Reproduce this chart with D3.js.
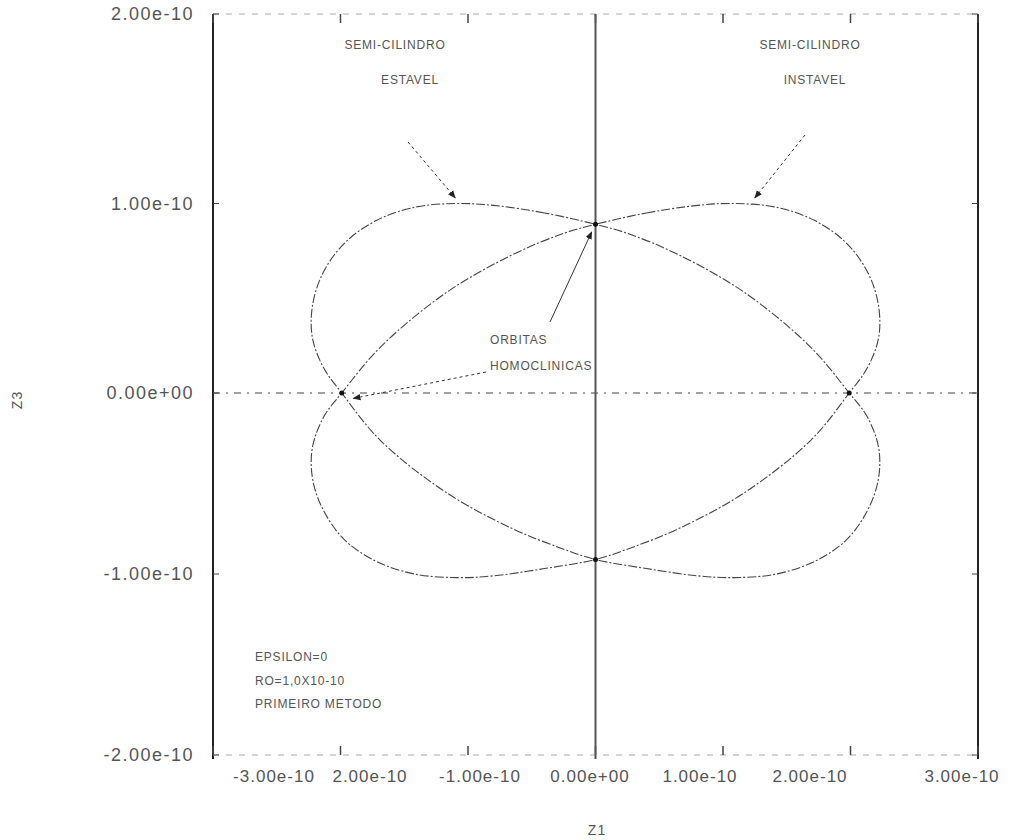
<!DOCTYPE html>
<html>
<head>
<meta charset="utf-8">
<script src="https://cdn.jsdelivr.net/npm/d3@7"></script>
<style>
  body { margin: 0; background: #fff; }
  text { font-family: "Liberation Sans", "DejaVu Sans", sans-serif; fill: #555; }
</style>
</head>
<body>
<div id="chart"></div>
<script>
// values are in units of 1e-10

// tick values and their printed labels
const xTicks = [-3, -2, -1, 0, 1, 2, 3];
const xTickLabels = ["-3.00e-10", "2.00e-10", "-1.00e-10", "0.00e+00", "1.00e-10", "2.00e-10", "3.00e-10"];
const yTicks = [-2, -1, 0, 1, 2];
const yTickLabels = ["-2.00e-10", "-1.00e-10", "0.00e+00", "1.00e-10", "2.00e-10"];

// stable semi-cylinder (tilted from upper left to lower right)
const stableZ1 = [0, -0.40, -0.80, -1.10, -1.42, -1.72, -1.97, -2.14, -2.22, -2.22, -2.13, -1.99,
  -1.69, -1.17, -0.65, -0.26, 0,
  0.40, 0.80, 1.10, 1.42, 1.72, 1.97, 2.14, 2.22, 2.22, 2.13, 1.99,
  1.69, 1.17, 0.65, 0.26];
const stableZ3 = [0.89, 0.95, 0.99, 1.00, 0.98, 0.91, 0.79, 0.63, 0.46, 0.29, 0.13, 0,
  -0.26, -0.55, -0.75, -0.86, -0.92,
  -0.97, -1.01, -1.02, -1.00, -0.93, -0.81, -0.64, -0.47, -0.30, -0.13, 0,
  0.24, 0.53, 0.73, 0.84];

// unstable semi-cylinder (tilted from upper right to lower left)
const unstableZ1 = [0, 0.40, 0.80, 1.08, 1.42, 1.72, 1.97, 2.14, 2.22, 2.22, 2.13, 1.99,
  1.69, 1.17, 0.65, 0.26, 0,
  -0.40, -0.80, -1.08, -1.42, -1.72, -1.97, -2.14, -2.22, -2.22, -2.13, -1.99,
  -1.69, -1.17, -0.65, -0.26];
const unstableZ3 = [0.89, 0.95, 0.99, 1.00, 0.98, 0.91, 0.79, 0.63, 0.46, 0.29, 0.13, 0,
  -0.26, -0.55, -0.75, -0.86, -0.92,
  -0.97, -1.01, -1.02, -1.00, -0.93, -0.81, -0.64, -0.47, -0.30, -0.13, 0,
  0.24, 0.53, 0.73, 0.84];

// homoclinic intersection points
const crossZ1 = [-1.99, 0, 1.99, 0];
const crossZ3 = [0, 0.89, 0, -0.92];

const notes = ["EPSILON=0", "RO=1,0X10-10", "PRIMEIRO METODO"];

const width = 1031, height = 840;
const plotLeft = 213, plotRight = 978, plotTop = 14, plotBottom = 755;

const svg = d3.select("#chart").append("svg")
    .attr("width", width)
    .attr("height", height);

const x = d3.scaleLinear().domain([-3, 3]).range([plotLeft, plotRight]);
// the scanned axis is a bit longer above zero than below
const y = d3.scaleLinear().domain([-2, 0, 2]).range([plotBottom, 393, plotTop]);
// printed x labels sit a little off their ticks in the original
const xLabelPos = d3.scaleLinear().domain([-3, -2, 2, 3]).range([274, 370, 810, 962]);

// frame
svg.append("line").attr("x1", plotLeft).attr("x2", plotLeft).attr("y1", plotTop).attr("y2", plotBottom + 4)
    .attr("stroke", "#222").attr("stroke-width", 2);
svg.append("line").attr("x1", plotRight).attr("x2", plotRight).attr("y1", plotTop).attr("y2", plotBottom + 4)
    .attr("stroke", "#222").attr("stroke-width", 2);
[plotTop, plotBottom].forEach(yy => {
  svg.append("line").attr("x1", plotLeft).attr("x2", plotRight).attr("y1", yy).attr("y2", yy)
      .attr("stroke", "#aaa").attr("stroke-width", 1).attr("stroke-dasharray", "6,7");
});

// ticks
svg.selectAll(".xtick-b").data(xTicks).enter().append("line")
    .attr("x1", d => x(d)).attr("x2", d => x(d))
    .attr("y1", plotBottom).attr("y2", plotBottom - 9)
    .attr("stroke", "#444").attr("stroke-width", 1.5);
svg.selectAll(".xtick-t").data(xTicks).enter().append("line")
    .attr("x1", d => x(d)).attr("x2", d => x(d))
    .attr("y1", plotTop).attr("y2", plotTop + 9)
    .attr("stroke", "#444").attr("stroke-width", 1.5);
svg.selectAll(".ytick-l").data(yTicks).enter().append("line")
    .attr("x1", plotLeft).attr("x2", plotLeft + 6)
    .attr("y1", d => y(d)).attr("y2", d => y(d))
    .attr("stroke", "#444");
svg.selectAll(".ytick-r").data(yTicks).enter().append("line")
    .attr("x1", plotRight).attr("x2", plotRight - 6)
    .attr("y1", d => y(d)).attr("y2", d => y(d))
    .attr("stroke", "#444");

// tick labels
svg.selectAll(".xlab").data(xTicks).enter().append("text")
    .attr("x", d => xLabelPos(d))
    .attr("y", 782)
    .attr("text-anchor", "middle")
    .style("font-size", "17px")
    .style("letter-spacing", "1px")
    .text((d, i) => xTickLabels[i]);
svg.selectAll(".ylab").data(yTicks).enter().append("text")
    .attr("x", 194)
    .attr("y", d => y(d) + 6)
    .attr("text-anchor", "end")
    .style("font-size", "18px")
    .style("letter-spacing", "1.5px")
    .text((d, i) => yTickLabels[i]);

// axis titles
svg.append("text").attr("x", 597).attr("y", 835).attr("text-anchor", "middle")
    .style("font-size", "14px").style("letter-spacing", "1px").text("Z1");
svg.append("text").attr("transform", "translate(22,400) rotate(-90)").attr("text-anchor", "middle")
    .style("font-size", "14px").style("letter-spacing", "1px").text("Z3");

// zero lines
svg.append("line").attr("x1", plotLeft).attr("x2", plotRight).attr("y1", y(0)).attr("y2", y(0))
    .attr("stroke", "#444").attr("stroke-width", 1).attr("stroke-dasharray", "7,6,2,6");
svg.append("line").attr("x1", x(0)).attr("x2", x(0)).attr("y1", plotTop).attr("y2", plotBottom + 4)
    .attr("stroke", "#555").attr("stroke-width", 2);

// curves
const line = d3.line()
    .x(d => x(d[0]))
    .y(d => y(d[1]))
    .curve(d3.curveCatmullRomClosed);

const stable = d3.zip(stableZ1, stableZ3);
const unstable = d3.zip(unstableZ1, unstableZ3);

[stable, unstable].forEach(pts => {
  svg.append("path").datum(pts)
      .attr("d", line).attr("fill", "none")
      .attr("stroke", "#444").attr("stroke-width", 1.1)
      .attr("stroke-dasharray", "9,2,2,2");
});

svg.selectAll(".cross").data(d3.zip(crossZ1, crossZ3)).enter().append("circle")
    .attr("cx", d => x(d[0])).attr("cy", d => y(d[1])).attr("r", 2.5)
    .attr("fill", "#111");

// arrows
const defs = svg.append("defs");
defs.append("marker").attr("id", "arrow")
    .attr("viewBox", "0 0 10 10").attr("refX", 9).attr("refY", 5)
    .attr("markerWidth", 8).attr("markerHeight", 8)
    .attr("orient", "auto")
  .append("path").attr("d", "M0,1L10,5L0,9Z").attr("fill", "#222");

function arrow(x1, y1, x2, y2, dash) {
  svg.append("line").attr("x1", x1).attr("y1", y1).attr("x2", x2).attr("y2", y2)
      .attr("stroke", "#333").attr("stroke-width", 1)
      .attr("stroke-dasharray", dash)
      .attr("marker-end", "url(#arrow)");
}

// annotation texts
function label(tx, ty, s, anchor) {
  svg.append("text").attr("x", tx).attr("y", ty)
      .attr("text-anchor", anchor || "middle")
      .style("font-size", "12px")
      .style("letter-spacing", "0.8px")
      .text(s);
}

label(395, 49, "SEMI-CILINDRO");
label(410, 84, "ESTAVEL");
arrow(408, 142, x(-1.10), y(1.03), "3,3");

label(810, 49, "SEMI-CILINDRO");
label(815, 84, "INSTAVEL");
arrow(805, 135, x(1.25), y(1.03), "3,3");

label(490, 344, "ORBITAS", "start");
label(490, 370, "HOMOCLINICAS", "start");
arrow(550, 322, x(-0.03), y(0.85), null);
arrow(486, 372, x(-1.90), y(-0.03), "3,3");

notes.forEach((s, i) => label(255, 661 + i * 23.5, s, "start"));
</script>
</body>
</html>
